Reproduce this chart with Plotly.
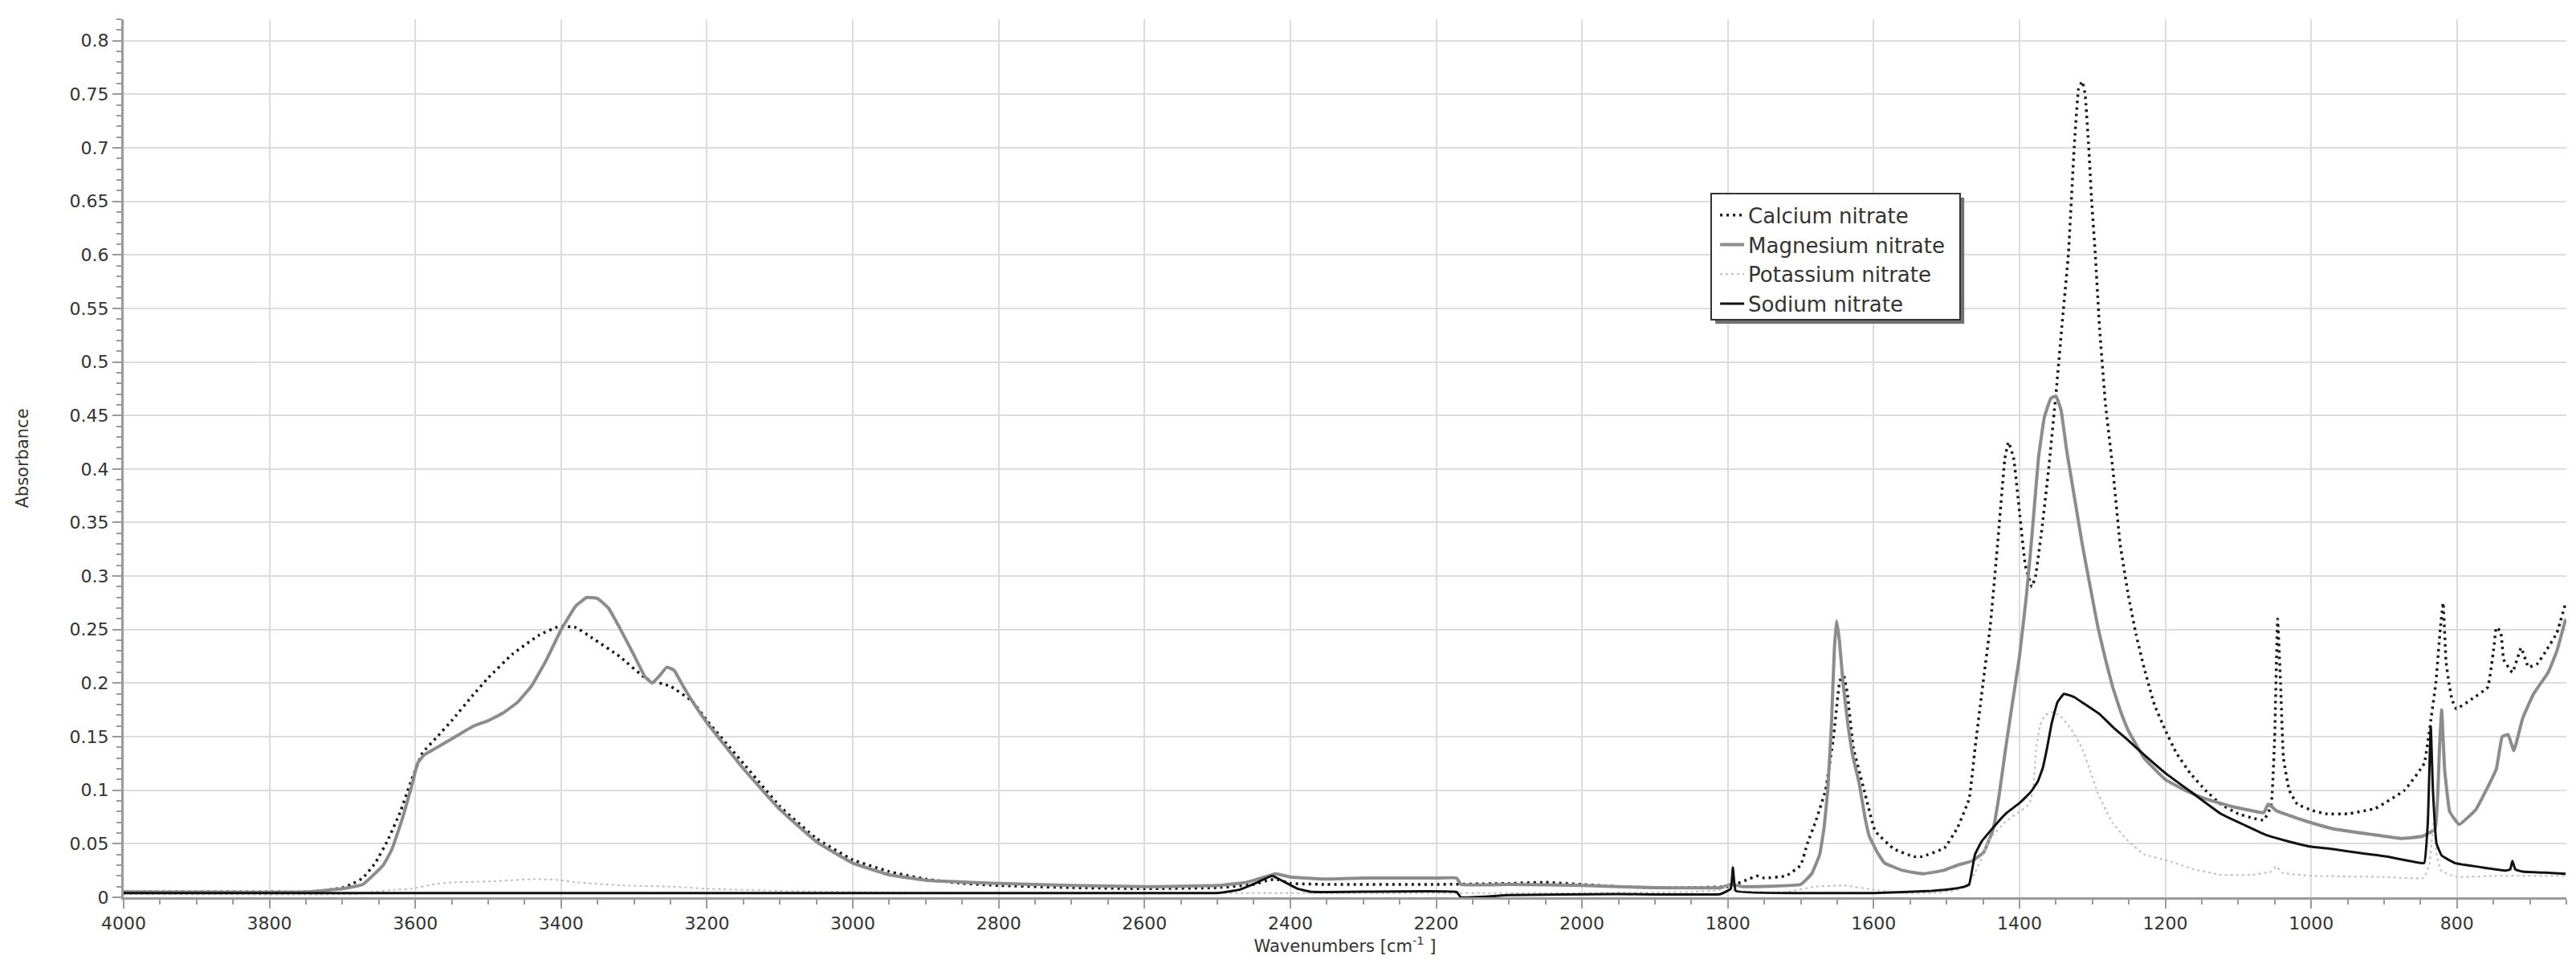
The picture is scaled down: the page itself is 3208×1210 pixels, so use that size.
import plotly.graph_objects as go

# spectra: (wavenumber cm-1, absorbance)
calcium = [
    (4000, 0.005), (3800, 0.005), (3750, 0.005), (3727, 0.006), (3700, 0.009), (3688, 0.012),
    (3672, 0.018), (3655, 0.032), (3638, 0.053), (3621, 0.079), (3605, 0.11), (3590, 0.135),
    (3570, 0.15), (3550, 0.165), (3522, 0.188), (3500, 0.205), (3467, 0.227), (3430, 0.245),
    (3403, 0.253), (3380, 0.252), (3357, 0.242), (3320, 0.225), (3283, 0.204), (3250, 0.197),
    (3220, 0.183), (3200, 0.165), (3150, 0.125), (3100, 0.085), (3050, 0.055), (3000, 0.035),
    (2950, 0.024), (2900, 0.017), (2850, 0.013), (2800, 0.011), (2700, 0.009), (2600, 0.008),
    (2500, 0.009), (2450, 0.012), (2430, 0.016), (2420, 0.017), (2400, 0.013), (2350, 0.012),
    (2200, 0.012), (2100, 0.013), (2050, 0.014), (2000, 0.012), (1950, 0.01), (1900, 0.009),
    (1850, 0.009), (1800, 0.01), (1790, 0.012), (1775, 0.016), (1760, 0.02), (1750, 0.018),
    (1720, 0.02), (1700, 0.03), (1691, 0.05), (1680, 0.07), (1666, 0.1), (1655, 0.15),
    (1647, 0.2), (1642, 0.21), (1636, 0.19), (1628, 0.14), (1613, 0.1), (1598, 0.062),
    (1572, 0.045), (1545, 0.038), (1534, 0.038), (1503, 0.046), (1485, 0.065), (1469, 0.092),
    (1461, 0.139), (1450, 0.2), (1440, 0.254), (1430, 0.33), (1420, 0.41), (1415, 0.425),
    (1408, 0.41), (1400, 0.36), (1392, 0.31), (1383, 0.29), (1378, 0.3), (1370, 0.34),
    (1360, 0.4), (1350, 0.47), (1342, 0.532), (1333, 0.6), (1325, 0.7), (1319, 0.755),
    (1314, 0.762), (1310, 0.75), (1305, 0.7), (1301, 0.65), (1296, 0.6), (1290, 0.53),
    (1282, 0.46), (1272, 0.4), (1262, 0.33), (1251, 0.283), (1240, 0.245), (1229, 0.214),
    (1215, 0.18), (1200, 0.156), (1185, 0.135), (1166, 0.116), (1145, 0.1), (1124, 0.087),
    (1100, 0.078), (1080, 0.074), (1065, 0.072), (1055, 0.085), (1050, 0.15), (1046, 0.26),
    (1042, 0.2), (1038, 0.13), (1030, 0.1), (1019, 0.087), (998, 0.081), (980, 0.078),
    (950, 0.078), (912, 0.083), (872, 0.1), (845, 0.125), (835, 0.17), (829, 0.2),
    (823, 0.25), (819, 0.275), (815, 0.22), (811, 0.2), (807, 0.185), (801, 0.176),
    (780, 0.185), (758, 0.196), (750, 0.23), (746, 0.252), (740, 0.248), (736, 0.222),
    (724, 0.21), (712, 0.233), (702, 0.215), (690, 0.218), (678, 0.23), (663, 0.247),
    (651, 0.275),
]

magnesium = [
    (4000, 0.005), (3750, 0.005), (3700, 0.008), (3672, 0.012), (3644, 0.03), (3632, 0.045),
    (3618, 0.073), (3605, 0.104), (3597, 0.125), (3588, 0.133), (3570, 0.14), (3550, 0.148),
    (3520, 0.16), (3500, 0.165), (3480, 0.172), (3460, 0.182), (3440, 0.198), (3420, 0.222),
    (3400, 0.25), (3380, 0.272), (3365, 0.28), (3350, 0.279), (3335, 0.27), (3320, 0.252),
    (3300, 0.226), (3285, 0.206), (3275, 0.2), (3265, 0.207), (3255, 0.215), (3245, 0.212),
    (3235, 0.2), (3220, 0.183), (3200, 0.163), (3150, 0.12), (3100, 0.082), (3050, 0.052),
    (3000, 0.032), (2950, 0.021), (2900, 0.016), (2800, 0.013), (2700, 0.011), (2600, 0.01),
    (2500, 0.011), (2460, 0.014), (2430, 0.02), (2420, 0.022), (2400, 0.019), (2350, 0.017),
    (2300, 0.018), (2200, 0.018), (2172, 0.018), (2166, 0.012), (2100, 0.012), (2000, 0.011),
    (1900, 0.009), (1810, 0.009), (1795, 0.012), (1780, 0.01), (1700, 0.012), (1685, 0.022),
    (1674, 0.04), (1668, 0.065), (1663, 0.1), (1658, 0.16), (1654, 0.23), (1651, 0.258),
    (1647, 0.24), (1642, 0.2), (1635, 0.16), (1628, 0.13), (1620, 0.107), (1612, 0.075),
    (1606, 0.057), (1595, 0.042), (1585, 0.032), (1560, 0.025), (1532, 0.022), (1505, 0.025),
    (1485, 0.03), (1465, 0.034), (1449, 0.042), (1436, 0.064), (1428, 0.095), (1419, 0.139),
    (1410, 0.18), (1400, 0.225), (1390, 0.285), (1382, 0.345), (1374, 0.41), (1366, 0.448),
    (1357, 0.466), (1350, 0.468), (1343, 0.455), (1335, 0.416), (1325, 0.375), (1314, 0.33),
    (1303, 0.29), (1293, 0.254), (1282, 0.222), (1272, 0.196), (1262, 0.175), (1251, 0.156),
    (1229, 0.13), (1200, 0.11), (1170, 0.099), (1145, 0.092), (1110, 0.085), (1082, 0.081),
    (1065, 0.079), (1059, 0.087), (1053, 0.084), (1048, 0.081), (1020, 0.074), (997, 0.069),
    (970, 0.064), (920, 0.059), (877, 0.055), (847, 0.057), (830, 0.064), (824, 0.14),
    (821, 0.175), (817, 0.12), (810, 0.08), (797, 0.068), (774, 0.082), (760, 0.1),
    (746, 0.12), (738, 0.15), (730, 0.152), (722, 0.137), (710, 0.167), (695, 0.19),
    (675, 0.21), (663, 0.23), (651, 0.26),
]

potassium = [
    (4000, 0.003), (3680, 0.003), (3660, 0.005), (3630, 0.007), (3605, 0.008), (3576, 0.012),
    (3548, 0.014), (3492, 0.015), (3436, 0.017), (3400, 0.016), (3380, 0.014), (3313, 0.011),
    (3250, 0.01), (3200, 0.008), (3100, 0.006), (3000, 0.005), (2800, 0.004), (2500, 0.004),
    (2000, 0.004), (1850, 0.005), (1810, 0.007), (1800, 0.011), (1790, 0.006), (1720, 0.005),
    (1680, 0.01), (1640, 0.011), (1600, 0.007), (1560, 0.004), (1520, 0.004), (1490, 0.006),
    (1475, 0.01), (1461, 0.023), (1450, 0.04), (1440, 0.055), (1420, 0.07), (1400, 0.08),
    (1390, 0.085), (1385, 0.09), (1381, 0.104), (1377, 0.139), (1372, 0.16), (1365, 0.17),
    (1355, 0.173), (1345, 0.17), (1330, 0.158), (1314, 0.139), (1303, 0.118), (1293, 0.098),
    (1282, 0.082), (1272, 0.069), (1250, 0.052), (1229, 0.04), (1200, 0.035), (1160, 0.026),
    (1124, 0.021), (1080, 0.021), (1055, 0.024), (1048, 0.029), (1040, 0.023), (998, 0.02),
    (900, 0.019), (846, 0.018), (838, 0.03), (832, 0.07), (828, 0.04), (822, 0.025),
    (814, 0.022), (799, 0.019), (747, 0.02), (651, 0.02),
]

sodium = [
    (4000, 0.004), (2500, 0.004), (2470, 0.007), (2445, 0.014), (2425, 0.02), (2410, 0.015),
    (2390, 0.008), (2370, 0.005), (2172, 0.005), (2166, 0.0), (2100, 0.002), (1950, 0.003),
    (1810, 0.003), (1796, 0.008), (1793, 0.028), (1789, 0.006), (1700, 0.004), (1600, 0.004),
    (1520, 0.006), (1490, 0.008), (1475, 0.01), (1469, 0.012), (1461, 0.04), (1452, 0.052),
    (1440, 0.062), (1419, 0.078), (1400, 0.088), (1385, 0.098), (1375, 0.108), (1368, 0.121),
    (1362, 0.14), (1356, 0.162), (1348, 0.182), (1339, 0.19), (1325, 0.187), (1314, 0.182),
    (1290, 0.171), (1272, 0.159), (1250, 0.146), (1229, 0.133), (1200, 0.116), (1160, 0.096),
    (1124, 0.078), (1090, 0.067), (1061, 0.058), (1030, 0.052), (998, 0.047), (970, 0.045),
    (930, 0.041), (896, 0.038), (858, 0.033), (845, 0.032), (840, 0.07), (836, 0.16),
    (833, 0.1), (828, 0.05), (821, 0.039), (803, 0.032), (766, 0.028), (733, 0.025),
    (727, 0.026), (724, 0.034), (720, 0.026), (710, 0.024), (680, 0.023), (651, 0.022),
]

series_names = ['Calcium nitrate', 'Magnesium nitrate', 'Potassium nitrate', 'Sodium nitrate']
series_data = [calcium, magnesium, potassium, sodium]
series_style = [
    dict(color='#1a1a1a', width=3.5, dash='3px,5px'),
    dict(color='#8c8c8c', width=4, dash='solid'),
    dict(color='#bdbdbd', width=2, dash='3px,4px'),
    dict(color='#111111', width=3, dash='solid'),
]

font_name = 'DejaVu Sans'

fig = go.Figure()
for name, pts, style in zip(series_names, series_data, series_style):
    fig.add_trace(go.Scatter(
        x=[p[0] for p in pts],
        y=[p[1] for p in pts],
        name=name,
        mode='lines',
        line=dict(shape='spline', smoothing=0.3, **style),
    ))

axis_common = dict(
    showline=True,
    linecolor='#9a9a9a',
    linewidth=3,
    showgrid=True,
    gridcolor='#dcdcdc',
    gridwidth=2,
    zeroline=False,
    ticks='outside',
    ticklen=11,
    tickwidth=2,
    tickcolor='#9a9a9a',
    tickfont=dict(family=font_name, size=22, color='#333333'),
)

# legend frame drawn as shapes (shadow first, then the white box)
fig.add_shape(type='rect', xref='paper', yref='paper', layer='above',
              x0=0.6516, x1=0.7535, y0=0.6532, y1=0.7969,
              fillcolor='#707070', line_width=0)
fig.add_shape(type='rect', xref='paper', yref='paper', layer='above',
              x0=0.6499, x1=0.7518, y0=0.6578, y1=0.8015,
              fillcolor='white', line=dict(color='#333333', width=2))

fig.update_layout(
    width=3208,
    height=1210,
    margin=dict(l=146, r=20, t=16, b=101),
    paper_bgcolor='white',
    plot_bgcolor='white',
    font=dict(family=font_name, color='#333333', size=20),
    xaxis=dict(
        range=[4000, 650],
        dtick=200,
        tick0=0,
        title=dict(text='Wavenumbers [cm<sup>-1</sup> ]', font=dict(size=21), standoff=6),
        minor=dict(dtick=50, ticks='outside', ticklen=6, tickcolor='#9a9a9a', showgrid=False),
        **axis_common,
    ),
    yaxis=dict(
        range=[0, 0.82],
        dtick=0.05,
        tick0=0,
        title=dict(text='Absorbance', font=dict(size=21), standoff=46),
        minor=dict(dtick=0.01, ticks='outside', ticklen=6, tickcolor='#9a9a9a', showgrid=False),
        **axis_common,
    ),
    legend=dict(
        x=0.6519, y=0.7985, xanchor='left', yanchor='top',
        bgcolor='rgba(0,0,0,0)',
        borderwidth=0,
        font=dict(family=font_name, size=26, color='#333333'),
        itemwidth=30,
    ),
    showlegend=True,
)

fig.write_html("out.html")
